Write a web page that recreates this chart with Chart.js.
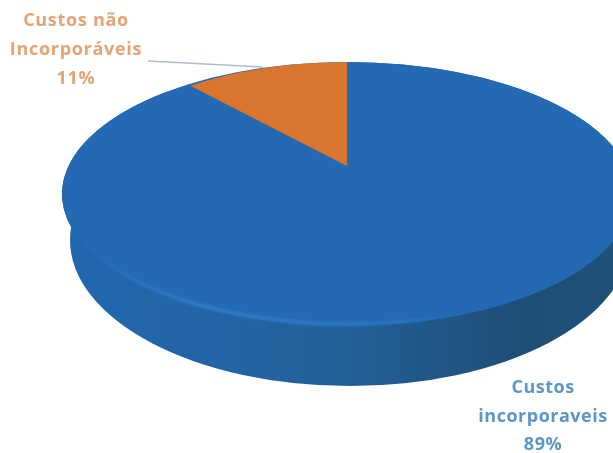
<!DOCTYPE html>
<html lang="pt">
<head>
<meta charset="UTF-8">
<title>Custos</title>
<script src="https://cdn.jsdelivr.net/npm/chart.js@4"></script>
<style>
  html, body { margin: 0; padding: 0; background: #fff; overflow: hidden; }
  canvas { display: block; filter: blur(0.5px); }
</style>
</head>
<body>
<canvas id="myChart" width="613" height="453"></canvas>
<script>
// data
var categories = ['Custos incorporaveis', 'Custos não Incorporáveis'];
var values = [89, 11];
var sliceColors = ['#2369b3', '#d9752f'];
var labelLines = [['Custos', 'incorporaveis', '89%'], ['Custos não', 'Incorporáveis', '11%']];
var labelColors = ['#5b97c8', '#e5a473'];

// the picture is a perspective view, so each slice gets its own ellipse
var topFace = { x: 347, y: 194, rx: 285, ry: 132 };
var wedgeFace = { x: 347, y: 166, rx: 246, ry: 104 };
var baseFace = { x: 350, y: 240, rx: 280, ry: 146 };
var labelPos = [{ x: 543, y: 388, lh: 28.5 }, { x: 76, y: 21, lh: 29 }];

function ellipse(ctx, e) {
    ctx.beginPath();
    ctx.ellipse(e.x, e.y, e.rx, e.ry, 0, 0, Math.PI * 2);
}

function drawArc(ctx, arc, f) {
    ctx.save();
    ctx.translate(f.x, f.y);
    ctx.scale(f.rx / arc.outerRadius, f.ry / arc.outerRadius);
    ctx.translate(-arc.x, -arc.y);
    arc.draw(ctx);
    ctx.restore();
}

var pie3d = {
    id: 'pie3d',
    beforeDatasetDraw: function (chart, args) {
        var ctx = chart.ctx;
        var arcs = chart.getDatasetMeta(args.index).data;

        // side of the disc
        var side = ctx.createLinearGradient(baseFace.x - baseFace.rx, 0, baseFace.x + baseFace.rx, 0);
        side.addColorStop(0, '#2268ae');
        side.addColorStop(0.25, '#2265a6');
        side.addColorStop(0.5, '#225f98');
        side.addColorStop(0.8, '#1f4e76');
        side.addColorStop(1, '#1f5278');
        ctx.save();
        ctx.fillStyle = side;
        ellipse(ctx, baseFace);
        ctx.fill();

        // top of the disc, fills the notch the wedge leaves in the blue slice
        ctx.fillStyle = sliceColors[0];
        ellipse(ctx, topFace);
        ctx.fill();
        ctx.restore();

        drawArc(ctx, arcs[0], topFace);

        // soft light rim on the front edge, fades out towards both ends
        var rim = ctx.createLinearGradient(80, 0, 470, 0);
        rim.addColorStop(0, 'rgba(51,132,210,0)');
        rim.addColorStop(0.3, 'rgba(51,132,210,0.9)');
        rim.addColorStop(0.7, 'rgba(51,132,210,0.7)');
        rim.addColorStop(1, 'rgba(51,132,210,0)');
        ctx.save();
        ctx.filter = 'blur(1.5px)';
        ctx.strokeStyle = rim;
        ctx.lineWidth = 3;
        ctx.beginPath();
        ctx.ellipse(topFace.x, topFace.y, topFace.rx - 2, topFace.ry - 2, 0, Math.PI * 0.3, Math.PI * 0.9);
        ctx.stroke();
        ctx.restore();

        drawArc(ctx, arcs[1], wedgeFace);
        return false;
    },
    afterDraw: function (chart) {
        var ctx = chart.ctx;
        ctx.save();
        // leader line
        ctx.strokeStyle = '#a9c0cc';
        ctx.lineWidth = 1.5;
        ctx.beginPath();
        ctx.moveTo(148, 61);
        ctx.lineTo(263, 67);
        ctx.stroke();

        ctx.font = 'bold 18px "Open Sans"';
        ctx.textAlign = 'center';
        ctx.textBaseline = 'middle';
        labelLines.forEach(function (lines, i) {
            ctx.letterSpacing = i === 0 ? '0.5px' : '0.7px';
            ctx.fillStyle = labelColors[i];
            lines.forEach(function (txt, j) {
                ctx.fillText(txt, labelPos[i].x, labelPos[i].y + j * labelPos[i].lh);
            });
        });
        ctx.restore();
    }
};

new Chart(document.getElementById('myChart'), {
    type: 'pie',
    data: {
        labels: categories,
        datasets: [{
            data: values,
            backgroundColor: sliceColors,
            borderWidth: 0
        }]
    },
    options: {
        responsive: false,
        animation: false,
        plugins: { legend: { display: false }, tooltip: { enabled: false } }
    },
    plugins: [pie3d]
});
</script>
</body>
</html>
